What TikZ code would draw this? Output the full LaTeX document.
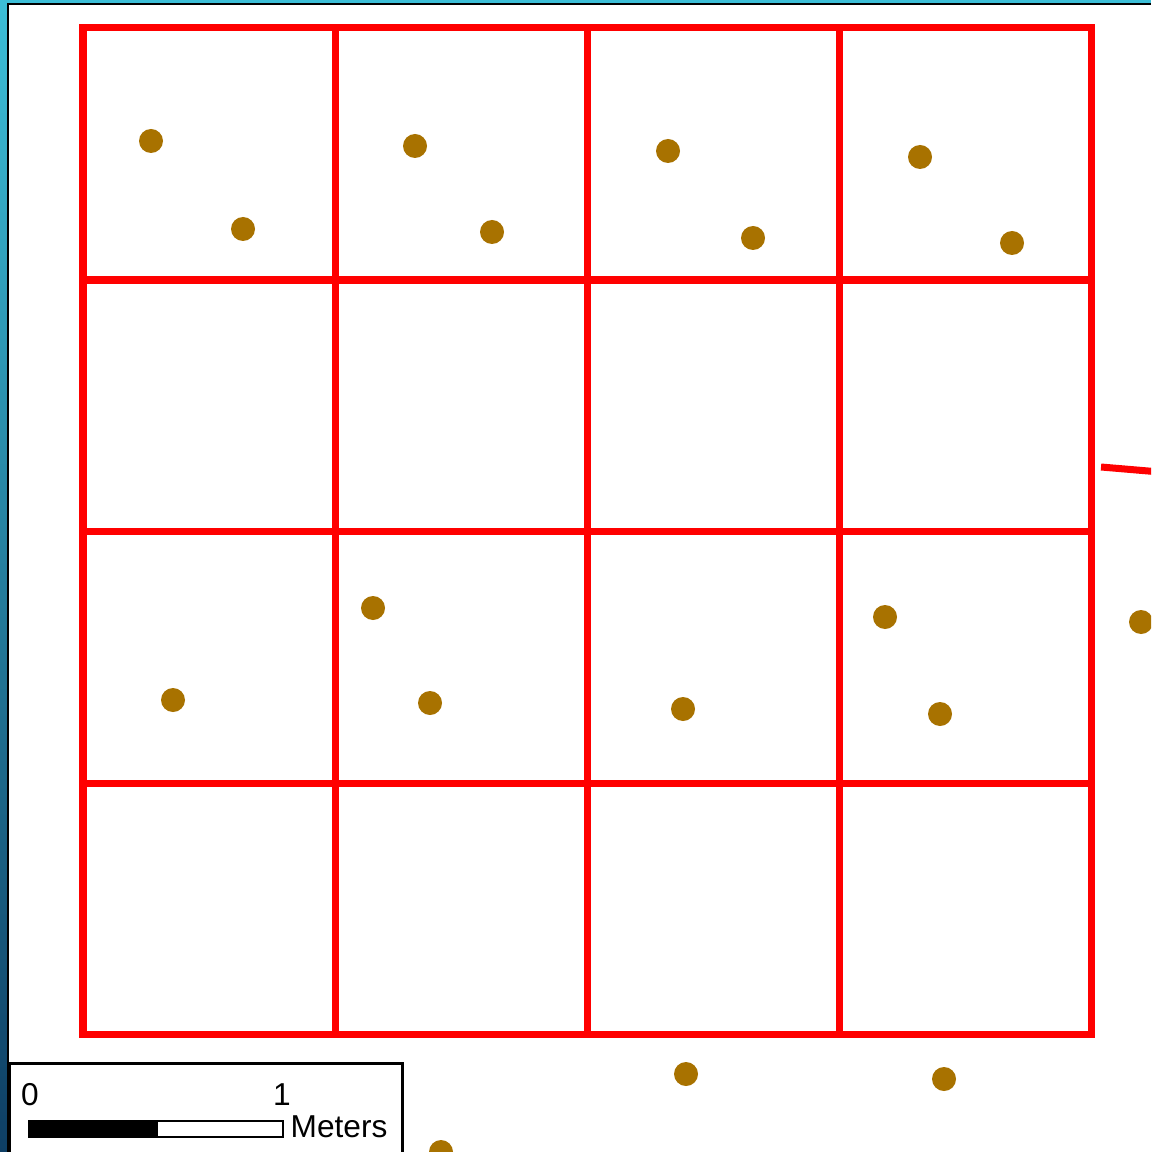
\documentclass[tikz,border=0pt]{standalone}
\usepackage{fontspec}
\setmainfont{Liberation Sans}
\usepackage{tikz}

\definecolor{dotbrown}{RGB}{168,114,0}
\definecolor{edgecyan}{RGB}{60,190,215}
\definecolor{edgenavy}{RGB}{14,62,100}

\begin{document}
\begin{tikzpicture}[x=0.01cm, y=-0.01cm,
	gridline/.style={draw=red, line width=0.07cm},
	plotdot/.style={fill=dotbrown},
	scaletext/.style={font=\fontsize{9}{10}\selectfont, inner sep=0pt}]
	\clip (0,0) rectangle (1151,1152);
	\useasboundingbox (0,0) rectangle (1151,1152);
	% frame of the slide
	\fill[white] (0,0) rectangle (1151,1152);
	\shade[top color=edgecyan, bottom color=edgenavy] (0,0) rectangle (8,1152);
	\fill[edgecyan] (0,0) rectangle (1151,3);
	\draw[line width=0.025cm] (8,1152) -- (8,4) -- (1151,4);
	% quadrat grid
	\foreach \x in {335,587,839}
		\draw[gridline] (\x,28) -- (\x,1034);
	\foreach \y in {280,531,783}
		\draw[gridline] (83,\y) -- (1091,\y);
	\draw[gridline] (83,28) rectangle (1091,1034);
	\draw[gridline] (1101,467) -- (1160,472);
	% plants
	\foreach \x/\y in {151/141, 243/229, 415/146, 492/232, 668/151, 753/238, 920/157, 1012/243,
		373/608, 173/700, 430/703, 683/709, 885/617, 940/714, 1141/622,
		686/1074, 944/1079, 441/1152}
		\fill[plotdot] (\x,\y) circle (12);
	% scale bar
	\draw[fill=white, line width=0.03cm] (9,1063) rectangle (402,1170);
	\fill (29,1121) rectangle (158,1137);
	\draw[line width=0.012cm] (29,1121) rectangle (283,1137);
	\node[scaletext, anchor=base] (zero) at (30,1105) {0};
	\node[scaletext, anchor=base] (one) at (282,1105) {1};
	\node[scaletext, anchor=base west] (meters) at (290,1137) {Meters};
\end{tikzpicture}
\end{document}
